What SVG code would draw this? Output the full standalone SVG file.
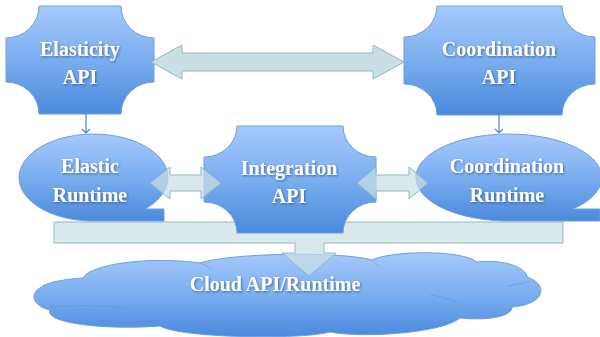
<svg xmlns="http://www.w3.org/2000/svg" width="600" height="337" viewBox="0 0 600 337">
<defs>
<linearGradient id="blue" x1="0" y1="0" x2="0" y2="1">
<stop offset="0" stop-color="#a6c9fb"/>
<stop offset="0.5" stop-color="#7aaef0"/>
<stop offset="1" stop-color="#4a89dc"/>
</linearGradient>
<filter id="ts" x="-10%" y="-30%" width="120%" height="160%">
<feDropShadow dx="1" dy="1.2" stdDeviation="1" flood-color="#1d3a66" flood-opacity="0.6"/>
</filter>
<marker id="tip" markerWidth="10" markerHeight="10" refX="5" refY="5" orient="auto" markerUnits="userSpaceOnUse">
<path d="M1,1 L5,5 L1,9" fill="none" stroke="#4f81bd" stroke-width="1.2"/>
</marker>
<style>
.node{fill:url(#blue);stroke:#6f9fdc;stroke-width:1}
.crease{fill:none;stroke:#5b8fd8;stroke-width:0.8;opacity:0.6}
.lbl{font-family:"Liberation Serif","DejaVu Serif",serif;font-weight:bold;font-size:20px;fill:#ffffff;text-anchor:middle;filter:url(#ts)}
.big{fill:#c9dfe3;stroke:#8fb6c9;stroke-width:1}
.fat{fill:#c9dfe3;fill-opacity:0.72;stroke:#8fb6c9;stroke-width:1}
.thin{fill:none;stroke:#4f81bd;stroke-width:1.2}
</style>
</defs>
<rect width="600" height="337" fill="#ffffff"/>

<g id="cloud">
<path class="node" d="M50,310 C32,306 30,293 40,288 C46,282 66,279 83,278 C90,264 150,256 200,263 C230,253 340,251 372,260 C390,251 460,249 477,262 C500,259 526,266 527,277 C548,284 547,304 512,307 C512,316 490,321 460,318 C440,334 360,338 330,332 C300,340 180,338 160,326 C110,330 44,324 50,310 Z"/>
<path class="crease" d="M50,307 C72,305 105,305 128,308"/>
<path class="crease" d="M113,323 C126,321 140,321 152,322"/>
<path class="crease" d="M507,286 C516,285 524,283 530,281"/>
<path class="crease" d="M430,295 C446,297 456,301 463,307"/>
<path class="crease" d="M200,263 C205,265 209,267 212,270"/>
<path class="crease" d="M372,260 C375,262 377,264 378,266"/>
<text class="lbl" x="275" y="291">Cloud API/Runtime</text>
</g>

<g id="connectors-under">
<path class="fat" d="M54,222 L563,222 L563,243 L324,243 L324,253 L336,253 L309,276 L282,253 L295,253 L295,243 L54,243 Z"/>
</g>

<g id="elasticity-api">
<path class="node" d="M39,6 L121,6 A33 32 0 0 0 154,38 L154,82 A33 32 0 0 0 121,114 L39,114 A33 32 0 0 0 6,82 L6,38 A33 32 0 0 0 39,6 Z"/>
<text class="lbl" x="80" y="56">Elasticity</text>
<text class="lbl" x="80" y="84">API</text>
</g>

<g id="coordination-api">
<path class="node" d="M437,6 L562,6 A33 31 0 0 0 595,37 L595,84 A33 31 0 0 0 562,115 L437,115 A33 31 0 0 0 404,84 L404,37 A33 31 0 0 0 437,6 Z"/>
<text class="lbl" x="499" y="56">Coordination</text>
<text class="lbl" x="499" y="84">API</text>
</g>

<g id="elastic-runtime">
<path class="node" d="M89.5,221 A74.5 43.5 0 1 1 145,209 L164,209 L164,221 Z"/>
<text class="lbl" x="90" y="173">Elastic</text>
<text class="lbl" x="90" y="202">Runtime</text>
</g>

<g id="integration-api">
<path class="node" d="M237,126 L343,126 A33 31 0 0 0 376,157 L376,202 A33 31 0 0 0 343,233 L237,233 A33 31 0 0 0 204,202 L204,157 A33 31 0 0 0 237,126 Z"/>
<text class="lbl" x="289" y="175">Integration</text>
<text class="lbl" x="289" y="203">API</text>
</g>

<g id="coordination-runtime">
<path class="node" d="M505,221 A93 43.5 0 1 1 573,209 L600,209 L600,221 Z"/>
<text class="lbl" x="507" y="173">Coordination</text>
<text class="lbl" x="507" y="202">Runtime</text>
</g>

<g id="connectors">
<path class="big" d="M151,62 L182,45 L182,53 L373,53 L373,45 L404,62 L373,79 L373,71 L182,71 L182,79 Z"/>
<path class="fat" d="M150,183 L170,167 L170,175 L201,175 L201,167 L221,183 L201,199 L201,191 L170,191 L170,199 Z"/>
<path class="fat" d="M357,183 L376,167 L376,175 L409,175 L409,167 L428,183 L409,199 L409,191 L376,191 L376,199 Z"/>
<line class="thin" x1="86" y1="114" x2="86" y2="133" marker-end="url(#tip)"/>
<line class="thin" x1="499" y1="115" x2="499" y2="133" marker-end="url(#tip)"/>
</g>
</svg>
